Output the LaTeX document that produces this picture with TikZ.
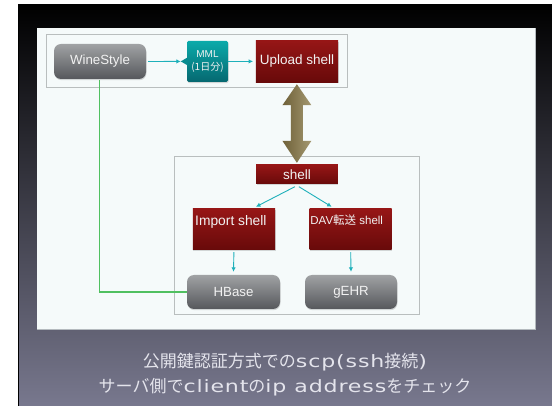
\documentclass[tikz,border=0pt]{standalone}
\usepackage{fontspec}
\setmainfont{Liberation Sans}
\newfontfamily\cjk{Noto Sans CJK JP}
\newfontfamily\capl{DejaVu Sans}[FakeStretch=1.3,LetterSpace=5]
\usetikzlibrary{arrows.meta,calc,shadows}
\definecolor{panelbg}{RGB}{245,250,250}
\definecolor{panelline}{RGB}{180,186,190}
\definecolor{groupline}{RGB}{185,190,190}
\definecolor{redtop}{RGB}{150,22,22}
\definecolor{redbot}{RGB}{104,10,10}
\definecolor{graytop}{RGB}{160,162,164}
\definecolor{graybot}{RGB}{86,88,92}
\definecolor{tealtop}{RGB}{10,170,170}
\definecolor{tealbot}{RGB}{6,104,112}
\definecolor{tealmid}{RGB}{8,140,144}
\definecolor{connteal}{RGB}{30,176,186}
\definecolor{greenln}{RGB}{80,192,96}
\definecolor{boxtxt}{RGB}{242,242,242}
\definecolor{captxt}{RGB}{228,228,236}
\definecolor{bgmid}{RGB}{40,40,52}
\definecolor{bgbot}{RGB}{120,120,142}
\definecolor{arrL}{RGB}{110,96,56}
\definecolor{arrR}{RGB}{164,152,112}
\tikzset{
  boxshadow/.style={drop shadow={shadow xshift=0.5pt, shadow yshift=-1.2pt, opacity=0.3}},
  graybox/.style={boxshadow, rounded corners=7pt, top color=graytop, bottom color=graybot,
    text=boxtxt, font=\fontsize{13.3}{15}\selectfont, inner sep=0pt},
  redbox/.style={boxshadow, top color=redtop, bottom color=redbot,
    text=boxtxt, font=\fontsize{13.5}{15}\selectfont, inner sep=0pt},
  tealbox/.style={boxshadow, rounded corners=1.5pt, top color=tealtop, bottom color=tealbot,
    text=boxtxt, font=\fontsize{10}{13.5}\selectfont, inner sep=0pt, align=center},
  boxtext/.style={text=boxtxt, inner sep=0pt},
  groupbox/.style={draw=groupline, line width=1pt},
  conn/.style={draw=connteal, line width=0.9pt, -{Latex[length=4.5pt,width=4.5pt]}},
  greenline/.style={draw=greenln, line width=1.2pt},
  arrowshade/.style={left color=arrL, right color=arrR},
}
\begin{document}
\begin{tikzpicture}[x=1pt,y=-1pt]
\useasboundingbox (0,0) rectangle (552,406);
% slide background
\shade[top color=black, middle color=bgmid, bottom color=bgbot] (18,5) rectangle (552,406);
\draw[black, line width=1pt] (18.5,5) -- (18.5,406);
% panel
\fill[panelbg] (37,28) rectangle (535,329.5);
\draw[panelline, line width=0.6pt] (535,28) -- (535,329.5) -- (37,329.5);
% group boxes
\draw[groupbox] (46,35) rectangle (347,88);
\draw[groupbox] (174,157) rectangle (419,315);

% top row
\node[graybox, minimum width=92pt, minimum height=35pt] (ws) at (100,61.5) {WineStyle};
\node[tealbox, minimum width=41pt, minimum height=41pt] (mml) at (207.5,61.4) {MML\\{\cjk (1日分)}};
\fill[tealmid] ($(mml.west)+(0.8,-4)$) -- ($(mml.west)+(-6,0)$) -- ($(mml.west)+(0.8,4)$) -- cycle;
\coordinate (mmltip) at ($(mml.west)+(-6,0)$);
\node[redbox, minimum width=82.3pt, minimum height=41.3pt] (up) at (296.9,61.4) {Upload shell};

% lower group
\node[redbox, minimum width=81.7pt, minimum height=19pt] (sh) at (296.9,174.5) {shell};
\node[redbox, minimum width=82.3pt, minimum height=41pt] (imp) at (233.9,229.5) {};
\node[boxtext, font=\fontsize{13.8}{15}\selectfont] (impt) at ($(imp.center)+(-3,-7.5)$) {Import shell};
\node[redbox, minimum width=82pt, minimum height=41pt] (dav) at (350.7,229.5) {};
\node[boxtext, font=\fontsize{11.5}{13}\selectfont] (davt) at ($(dav.center)+(-4,-9.5)$) {DAV{\cjk 転送} shell};
\node[graybox, minimum width=93pt, minimum height=34pt] (hb) at (233.5,292) {HBase};
\node[graybox, minimum width=92pt, minimum height=34pt] (ge) at (351,292) {gEHR};

% double arrow between Upload shell and shell
\shade[arrowshade] let \p1=($(up.south)+(0,2)$), \p2=($(sh.north)+(0,-2)$) in
  (\x1,\y1) -- (\x1+14.5pt,\y1-21pt) -- (\x1+6pt,\y1-21pt) -- (\x1+6pt,\y2+22pt)
  -- (\x1+14.5pt,\y2+22pt) -- (\x2,\y2) -- (\x1-14.5pt,\y2+22pt) -- (\x1-6pt,\y2+22pt)
  -- (\x1-6pt,\y1-21pt) -- (\x1-14.5pt,\y1-21pt) -- cycle;

% connectors
\draw[conn] ($(ws.east)+(2,0)$) -- (mmltip);
\draw[conn] (mml.east) -- ($(up.west)+(-2.5,0)$);
\draw[conn] ($(sh.south)+(-2,2.5)$) -- ($(imp.north)+(22,-2)$);
\draw[conn] ($(sh.south)+(2,2.5)$) -- ($(dav.north)+(-19,-2)$);
\draw[conn] ($(imp.south)+(0,2)$) -- ($(hb.north)+(0,-3)$);
\draw[conn] ($(dav.south)+(0,2)$) -- ($(ge.north)+(0,-3)$);
\draw[greenline] ($(ws.south)+(-0.7,1)$) -- ($(ws.south |- hb.west)+(-0.7,0)$) -- (hb.west);

% caption
\node[text=captxt, align=center, font=\fontsize{17}{25}\selectfont, inner sep=0pt] (cap) at (285,375)
  {{\cjk 公開鍵認証方式での}{\capl scp(ssh}{\cjk 接続}{\capl )}\\
   {\cjk サーバ側で}{\capl client}{\cjk の}{\capl ip address}{\cjk をチェック}};
\end{tikzpicture}
\end{document}
